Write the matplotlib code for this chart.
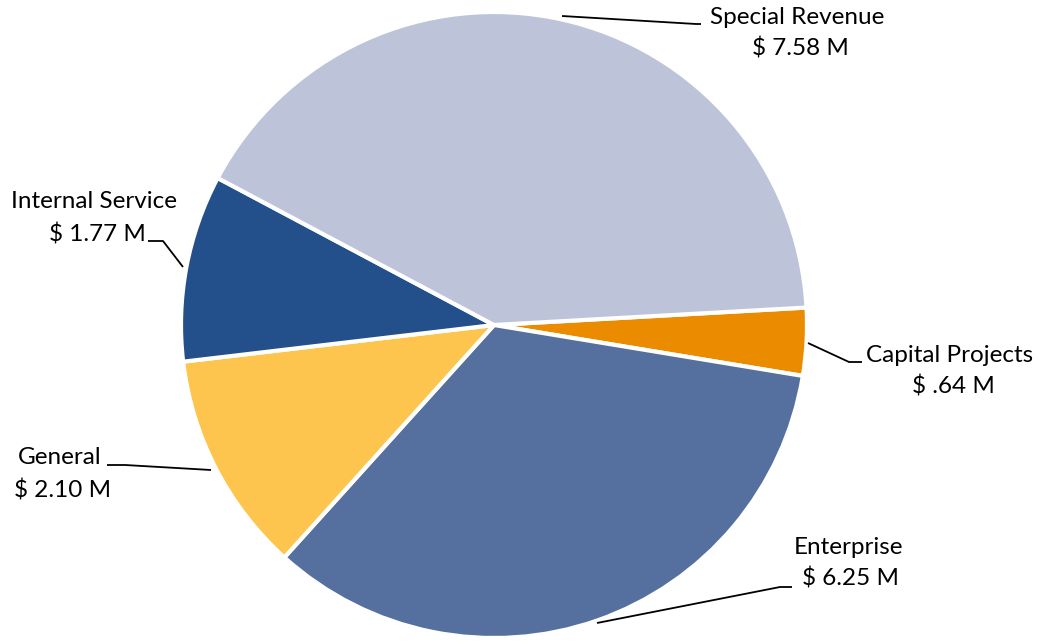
import matplotlib.pyplot as plt

categories = ["Capital Projects", "Enterprise", "General", "Internal Service", "Special Revenue"]
values = [0.64, 6.25, 2.10, 1.77, 7.58]
value_labels = ["$ .64 M", "$ 6.25 M", "$ 2.10 M", "$ 1.77 M", "$ 7.58 M"]
colors = ["#EB8C00", "#55709F", "#FDC54E", "#23508A", "#BDC3D9"]

W, H = 1042, 641
fig = plt.figure(figsize=(W / 100, H / 100), dpi=100)
ax = fig.add_axes([0, 0, 1, 1])

cx, cy, r = 494, H - 325, 313
ax.pie(values, colors=colors, startangle=3.2, counterclock=False,
       center=(cx, cy), radius=r, frame=True,
       wedgeprops=dict(edgecolor="white", linewidth=3))
ax.set_xlim(0, W)
ax.set_ylim(0, H)
ax.set_aspect("equal")
ax.axis("off")

font = dict(family="Lato", fontsize=17.5, color="black")

# label anchor (centre of the name line) and leader line points, in pixel coords (y from top)
layout = {
    "Special Revenue": ((797, 17), [(562, 16), (696, 24), (701, 24)]),
    "Capital Projects": ((950, 355), [(808, 343), (849, 362), (862, 362)]),
    "Enterprise": ((848, 547), [(597, 623), (780, 587), (792, 587)]),
    "Internal Service": ((94, 202), [(183, 267), (163, 241), (148, 241)]),
    "General": ((60, 458), [(107, 465), (125, 465), (211, 470)]),
}

for name, vlab in zip(categories, value_labels):
    (tx, ty), pts = layout[name]
    ax.text(tx, H - ty, name, ha="center", va="center", **font)
    ax.text(tx + 3, H - ty - 32, vlab, ha="center", va="center", **font)
    xs = [p[0] for p in pts]
    ys = [H - p[1] for p in pts]
    ax.plot(xs, ys, color="black", linewidth=1.3, solid_capstyle="butt")

fig.savefig("out.png", dpi=100)
